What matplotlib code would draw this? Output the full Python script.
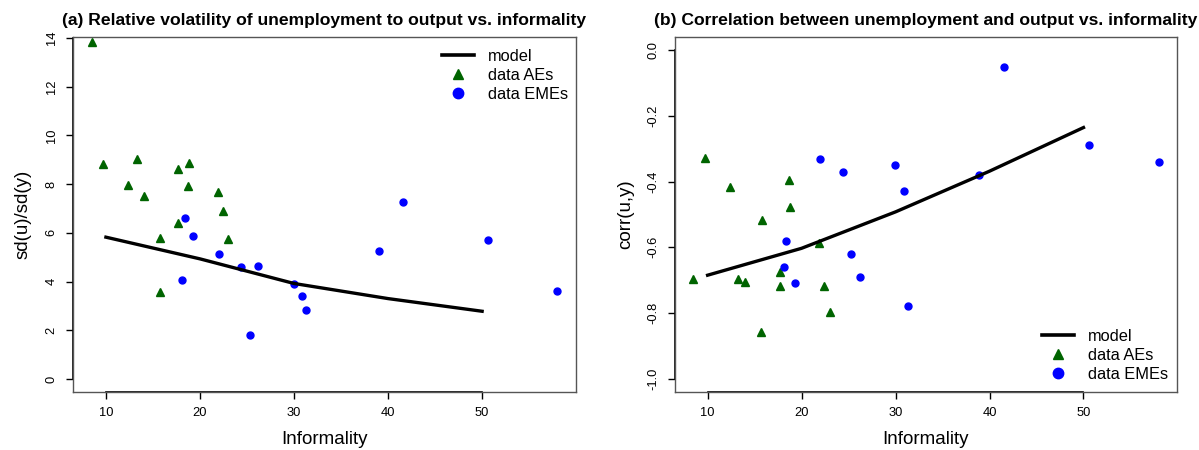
import matplotlib
matplotlib.use("Agg")
import matplotlib.pyplot as plt
from matplotlib.lines import Line2D
from matplotlib.ticker import FormatStrFormatter

plt.rcParams['font.family'] = ['Liberation Sans', 'DejaVu Sans']
plt.rcParams['axes.unicode_minus'] = False

# model curves
model_x = [10, 20, 30, 40, 50]
model_vol = [5.82, 4.93, 3.92, 3.30, 2.78]
model_corr = [-0.685, -0.603, -0.492, -0.368, -0.235]

# panel (a) data: relative volatility sd(u)/sd(y)
ae_x_a = [8.5, 9.7, 13.3, 12.4, 14.0, 17.7, 18.8, 18.7, 21.9, 22.5, 17.7, 15.7, 23.0, 15.8]
ae_vol = [13.82, 8.83, 9.03, 7.96, 7.52, 8.62, 8.88, 7.93, 7.66, 6.91, 6.40, 5.77, 5.74, 3.56]
eme_x_a = [18.4, 41.6, 19.3, 22.0, 24.4, 26.2, 18.1, 30.0, 30.9, 31.3, 25.3, 39.0, 50.6, 58.0]
eme_vol = [6.62, 7.27, 5.88, 5.12, 4.60, 4.63, 4.07, 3.89, 3.42, 2.82, 1.81, 5.26, 5.71, 3.60]

# panel (b) data: corr(u,y)
ae_x_b = [9.7, 12.4, 18.7, 18.8, 15.8, 21.9, 8.5, 13.2, 14.0, 17.7, 17.7, 22.4, 23.0, 15.7]
ae_corr = [-0.327, -0.416, -0.396, -0.477, -0.517, -0.586, -0.696, -0.696, -0.707,
           -0.676, -0.717, -0.717, -0.797, -0.857]
eme_x_b = [41.5, 22.0, 24.4, 29.9, 30.9, 38.9, 50.6, 58.0, 18.3, 25.3, 18.1, 26.2, 19.3, 31.3]
eme_corr = [-0.050, -0.330, -0.371, -0.350, -0.429, -0.380, -0.289, -0.340, -0.580,
            -0.619, -0.659, -0.689, -0.710, -0.780]

x_ticks = [10, 20, 30, 40, 50]
green = "#006400"
blue = "#0000FF"

fig = plt.figure(figsize=(11.99, 4.5), dpi=100)
ax_a = fig.add_axes([73 / 1199, 1 - 391.7 / 450, 502.7 / 1199, 354.4 / 450])
ax_b = fig.add_axes([674.7 / 1199, 1 - 391.7 / 450, 502.3 / 1199, 354.4 / 450])


def style(ax, ylim, yticks, ylabel, title, ylab_x):
    ax.set_xlim(6.5, 59.95)
    ax.set_ylim(*ylim)
    ax.set_xticks(x_ticks)
    ax.set_yticks(yticks)
    for s in ax.spines.values():
        s.set_color("#555555")
        s.set_linewidth(1.0)
    # R style axis lines between first and last tick
    ax.plot([x_ticks[0], x_ticks[-1]], [0, 0], color="black", lw=1.2,
            transform=ax.get_xaxis_transform(), clip_on=False)
    ax.plot([0, 0], [yticks[0], yticks[-1]], color="black", lw=1.2,
            transform=ax.get_yaxis_transform(), clip_on=False)
    ax.tick_params(direction="out", length=5, width=1, labelsize=9.3, pad=6, color="black")
    ax.tick_params(axis="y", labelrotation=90)
    for lab in ax.get_yticklabels():
        lab.set_verticalalignment("center")
    ax.set_xlabel("Informality", fontsize=13.5)
    ax.xaxis.set_label_coords(0.5, -0.11)
    ax.set_ylabel(ylabel, fontsize=13.5)
    ax.yaxis.set_label_coords(ylab_x, 0.5)
    ax.set_title(title, fontsize=12.6, fontweight="bold", pad=9)


def handles():
    return [Line2D([], [], color="black", lw=2.6),
            Line2D([], [], color=green, marker="^", ls="none", markersize=7.5),
            Line2D([], [], color=blue, marker="o", ls="none", markersize=7.5)]


labels = ["model", "data AEs", "data EMEs"]
leg_kw = dict(frameon=False, fontsize=11.8, handlelength=1.95, handletextpad=0.85,
              labelspacing=0.25, borderpad=0, borderaxespad=0)

# (a)
ax_a.plot(ae_x_a, ae_vol, "^", color=green, markersize=6, zorder=3)
ax_a.plot(eme_x_a, eme_vol, "o", color=blue, markersize=5, zorder=3)
ax_a.plot(model_x, model_vol, color="black", lw=2.4, zorder=4)
style(ax_a, (-0.52, 14.02), [0, 2, 4, 6, 8, 10, 12, 14], "sd(u)/sd(y)",
      "(a) Relative volatility of unemployment to output vs. informality", -0.082)
ax_a.legend(handles(), labels, loc="upper right", bbox_to_anchor=(0.984, 0.967), **leg_kw)

# (b)
ax_b.plot(ae_x_b, ae_corr, "^", color=green, markersize=6, zorder=3)
ax_b.plot(eme_x_b, eme_corr, "o", color=blue, markersize=5, zorder=3)
ax_b.plot(model_x, model_corr, color="black", lw=2.4, zorder=4)
style(ax_b, (-1.04, 0.04), [-1.0, -0.8, -0.6, -0.4, -0.2, 0.0], "corr(u,y)",
      "(b) Correlation between unemployment and output vs. informality", -0.08)
ax_b.yaxis.set_major_formatter(FormatStrFormatter("%.1f"))
ax_b.legend(handles(), labels, loc="lower right", bbox_to_anchor=(0.982, 0.027), **leg_kw)

fig.savefig("out.png", dpi=100)
